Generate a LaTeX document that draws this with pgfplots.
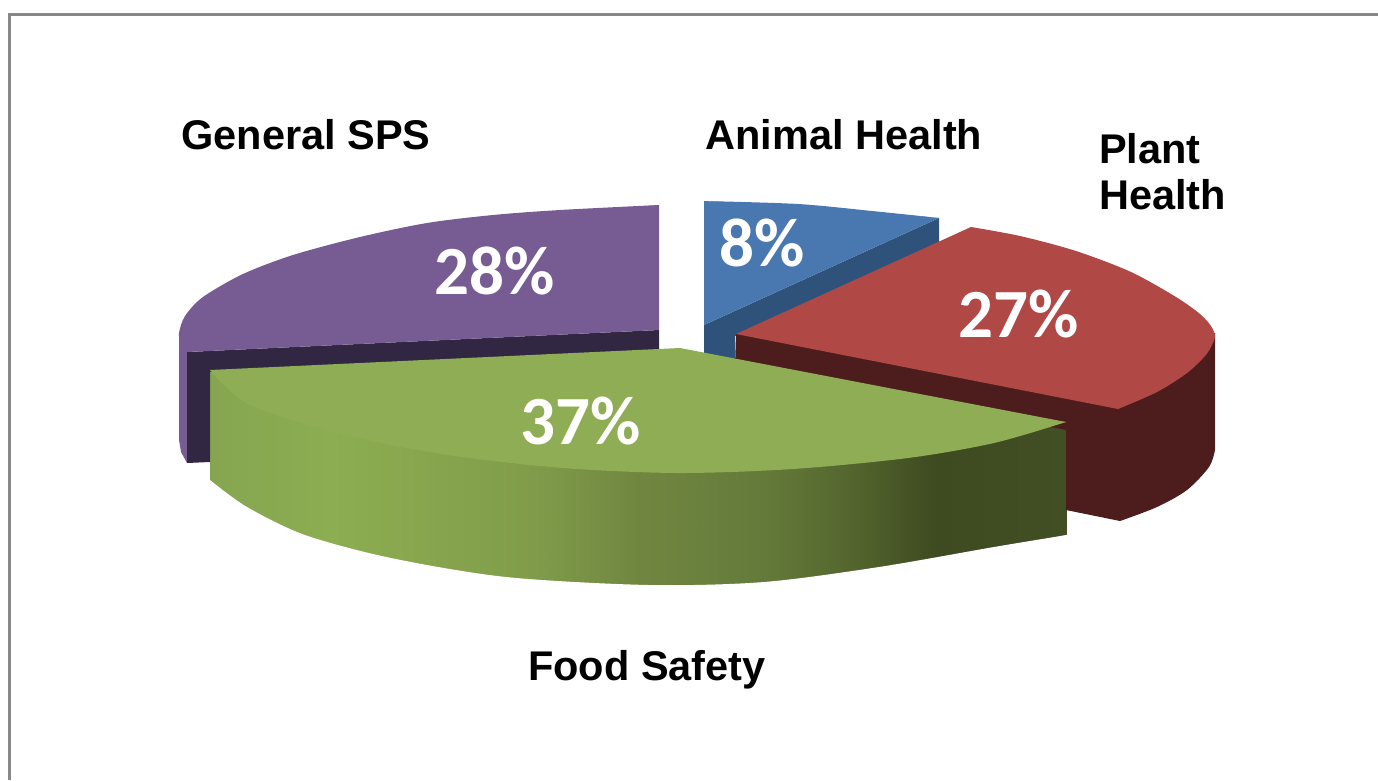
\documentclass[border=0pt]{standalone}
\usepackage{pgfplots}
\pgfplotsset{compat=1.18}
\usepackage{fontspec}
\setmainfont{Liberation Sans}
\newfontfamily\pct{Carlito}
\definecolor{frameg}{RGB}{136,136,136}
\definecolor{purpT}{RGB}{119,92,148}
\definecolor{purpD}{RGB}{50,39,66}
\definecolor{blueT}{RGB}{73,120,177}
\definecolor{blueD}{RGB}{47,82,122}
\definecolor{redT}{RGB}{176,73,70}
\definecolor{redD}{RGB}{77,29,29}
\definecolor{greenT}{RGB}{142,173,84}
\pgfplotsset{colormap={greenside}{
 rgb255(210)=(133,165,80) rgb255(330)=(141,173,82) rgb255(362)=(139,171,80)
 rgb255(534)=(128,156,74) rgb255(640)=(112,134,64) rgb255(764)=(100,122,58)
 rgb255(850)=(84,102,46) rgb255(936)=(62,74,32) rgb255(1066)=(66,78,36)}}
\newcommand\lab[1]{\fontsize{41.5}{46}\selectfont\bfseries #1}
\newcommand\per[1]{\pct\fontsize{69}{72}\selectfont\bfseries #1}
\begin{document}
\begin{tikzpicture}
\begin{axis}[hide axis,scale only axis,width=1378pt,height=780pt,
  xmin=0,xmax=1378,ymin=0,ymax=780,y dir=reverse,clip=true,
  colormap name=greenside,point meta min=210,point meta max=1066]
\path[use as bounding box] (axis cs:0,0) rectangle (axis cs:1378,780);
% frame
\addplot[frameg,line width=3pt,no markers] coordinates {(9.5,780)(9.5,14.5)(1378,14.5)};
% green side: 37
\addplot[surf,shader=interp,mesh/rows=2,point meta=explicit] table[meta=c] {
x y c
210 372 210
330 372 330
362 372 362
534 372 534
640 372 640
764 372 764
850 381 850
936 397 936
1066 424 1066
210 602 210
330 602 330
362 602 362
534 602 534
640 602 640
764 602 764
850 602 850
936 602 936
1066 602 1066
};
% white below the curved lower rim
\addplot[fill=white,draw=none,no markers,smooth] coordinates {(210,480)(247,507)(305,535)(391,558)(506,577)(649,585)(764,582)(879,567)(994,547)(1066,535)(1120,525)(1170,570)(1100,640)(700,655)(300,655)(170,640)(170,520)};
% purple: 28
\addplot[fill=purpT,draw=none,no markers] coordinates {(179,333)(179,440)(181,452)(187,463)(187,352)};
\addplot[fill=purpD,draw=none,no markers] coordinates {(187,352)(659,330)(659,352)(210,372)(210,462)(187,463)};
\addplot[fill=purpT,draw=none,no markers] coordinates {(659,205)(427,228)(243,280)(187,352)(659,330)};
\addplot[fill=purpT,draw=none,no markers,smooth] coordinates {(659,205)(560,210)(493,215)(427,223)(360,237)(293,255)(243,274)(203,297)(185,316)(179,333)(181,343)(187,352)};
% blue: 8
\addplot[fill=blueD,draw=none,no markers] coordinates {(939,218)(939,243)(735,336)(735,365)(704,360)(704,325)};
\addplot[fill=blueT,draw=none,no markers] coordinates {(704,201)(820,207)(939,218)(704,325)};
\addplot[fill=blueT,draw=none,no markers,smooth] coordinates {(704,201)(798,204)(872,211)(939,218)};
% red: 27
\addplot[fill=redD,draw=none,no markers] coordinates {(736,334)(1215,333)(1215,450)(1187,485)(1120,521)(1066,510)(1066,430)(735,365)};
\addplot[fill=redD,draw=none,no markers,smooth] coordinates {(1215,450)(1209,467)(1187,490)(1157,507)(1120,521)};
\addplot[fill=redT,draw=none,no markers] coordinates {(736,334)(971,227)(1131,276)(1205,345)(1118,409)};
\addplot[fill=redT,draw=none,no markers,smooth] coordinates {(971,227)(1020,236)(1076,251)(1131,272)(1176,297)(1200,314)(1211,326)(1215,336)(1212,345)(1205,356)(1187,373)(1157,392)(1118,409)};
% green top: 37
\addplot[fill=greenT,draw=none,no markers] coordinates {(210,370)(680,348)(1066,422)(793,465)(448,451)};
\addplot[fill=greenT,draw=none,no markers,smooth] coordinates {(1066,422)(994,443)(908,458)(793,469)(678,473)(563,468)(448,455)(345,435)(250,405)(210,370)};
% labels
\node[anchor=center] at (axis cs:306,135) {\lab{General SPS}};
\node[anchor=center] at (axis cs:844,135) {\lab{Animal Health}};
\node[anchor=center] at (axis cs:647,670) {\lab{Food Safety}};
\node[anchor=west,inner sep=0pt] at (axis cs:1099,149) {\lab{Plant}};
\node[anchor=west,inner sep=0pt] at (axis cs:1099,195) {\lab{Health}};
\node[text=white] at (axis cs:762,243) {\per{8\%}};
\node[text=white] at (axis cs:1019,314) {\per{27\%}};
\node[text=white] at (axis cs:495,271) {\per{28\%}};
\node[text=white] at (axis cs:581,421) {\per{37\%}};
\end{axis}
\end{tikzpicture}
\end{document}
